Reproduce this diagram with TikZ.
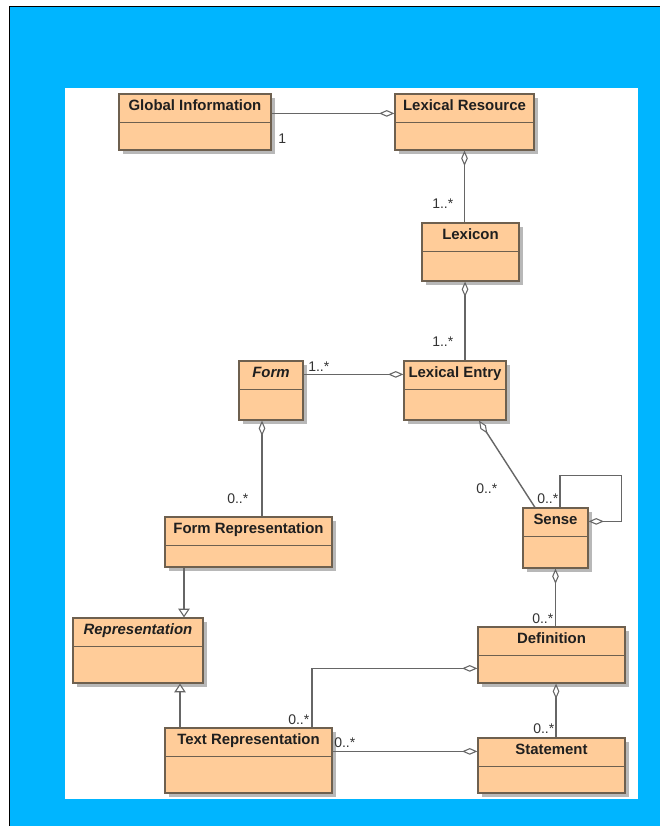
\documentclass[tikz,border=0pt]{standalone}
\usepackage{fontspec}
\setmainfont{Liberation Sans}
\usetikzlibrary{arrows.meta,shadows,fit}
\definecolor{bgblue}{HTML}{00B5FF}
\definecolor{peach}{HTML}{FFCC99}
\definecolor{boxline}{HTML}{6E604F}
\definecolor{conn}{HTML}{666666}
\definecolor{shadowgray}{HTML}{B8B8B8}
\tikzset{
  cls/.style={draw=boxline, line width=0.9pt, fill=peach, inner sep=0pt,
    drop shadow={shadow xshift=3pt, shadow yshift=-3pt, fill=shadowgray, opacity=1}},
  ttl/.style={anchor=base, font=\bfseries\fontsize{11.2}{13}\selectfont, text=black!88, inner sep=0pt},
  mult/.style={anchor=base west, font=\fontsize{10.5}{12}\selectfont, text=black!80, inner sep=0pt},
  divl/.style={draw=boxline, line width=0.9pt},
  assoc/.style={draw=conn, line width=1.05pt},
  agg/.style={assoc, -{Diamond[length=11.5pt, width=5pt, fill=white, line width=0.8pt]}},
  gen/.style={assoc, -{Triangle[length=6.5pt, width=8.5pt, fill=white, line width=0.8pt]}},
}
\newcommand\umlclass[6]{%
  \node[cls, fit={(#2,#3) (#4,#5)}] (#1) {};
  \draw[divl] ([yshift=-21.75pt]#1.north west) -- ([yshift=-21.75pt]#1.north east);
  \node[ttl] (#1-t) at ([yshift=-12.75pt]#1.north) {#6};
}
\begin{document}
\begin{tikzpicture}[x=0.75pt,y=-0.75pt]
\useasboundingbox (0,0) rectangle (660,826);
\clip (0,0) rectangle (660,826);
\fill[white] (0,0) rectangle (660,826);
\fill[bgblue] (9,6) rectangle (670,840);
\draw[black, line width=1.4pt] (9.5,840) -- (9.5,6.5) -- (670,6.5);
\fill[white] (65,88) rectangle (638,799);

% classes
\umlclass{gi}{119}{94}{271}{150}{Global Information}
\umlclass{lr}{395}{94}{534}{150}{Lexical Resource}
\umlclass{lex}{422}{223}{519}{281}{Lexicon}
\umlclass{form}{239}{361}{303}{420}{\itshape Form}
\umlclass{le}{404}{361}{506}{420}{Lexical Entry}
\umlclass{fr}{165}{517}{332}{567}{Form Representation}
\umlclass{sense}{523}{508}{588}{568}{Sense}
\umlclass{rep}{73}{618}{203}{683}{\itshape Representation}
\umlclass{def}{478}{627}{625}{683}{Definition}
\umlclass{tr}{165}{728}{332}{793}{Text Representation}
\umlclass{st}{478}{738}{625}{793}{Statement}

% connectors
\draw[agg] ([yshift=-15pt]gi.north east) -- ([yshift=-15pt]lr.north west);
\draw[agg] (lr.south |- lex.north) -- (lr.south);
\draw[agg] ([xshift=-4.1pt]lex.south |- le.north) -- ([xshift=-4.1pt]lex.south);
\draw[agg] ([yshift=-10.5pt]form.north east) -- ([yshift=-10.5pt]le.north west);
\draw[agg] ([xshift=-6.75pt]form.south |- fr.north) -- ([xshift=-6.75pt]form.south);
\draw[agg] ([xshift=-15.4pt]sense.north) -- ([xshift=18pt]le.south);
\draw[agg] ([xshift=3.4pt]sense.north) -- ++(0pt,24pt) -| ([xshift=24.75pt,yshift=-10.5pt]sense.north east) -- ([yshift=-10.5pt]sense.north east);
\draw[gen] ([xshift=34.5pt]rep.north |- fr.south) -- ([xshift=34.5pt]rep.north);
\draw[gen] ([xshift=31.5pt]rep.south |- tr.north) -- ([xshift=31.5pt]rep.south);
\draw[agg] (sense.south |- def.north) -- (sense.south);
\draw[agg] ([xshift=47.6pt]tr.north) |- ([yshift=-31.5pt]def.north west);
\draw[agg] ([xshift=3.4pt]def.south |- st.north) -- ([xshift=3.4pt]def.south);
\draw[agg] ([yshift=-18pt]tr.north east) coordinate (trs) -- (trs -| st.west);

% multiplicities
\node[mult] (m1) at (278,143) {1};
\node[mult] (m2) at (432,208) {1..*};
\node[mult] (m3) at (432,346) {1..*};
\node[mult] (m4) at (308,371) {1..*};
\node[mult] (m5) at (227,503) {0..*};
\node[mult] (m6) at (476,493) {0..*};
\node[mult] (m7) at (537,503) {0..*};
\node[mult] (m8) at (532,623) {0..*};
\node[mult] (m9) at (533,733) {0..*};
\node[mult] (m10) at (288,724) {0..*};
\node[mult] (m11) at (334,747) {0..*};
\end{tikzpicture}
\end{document}
